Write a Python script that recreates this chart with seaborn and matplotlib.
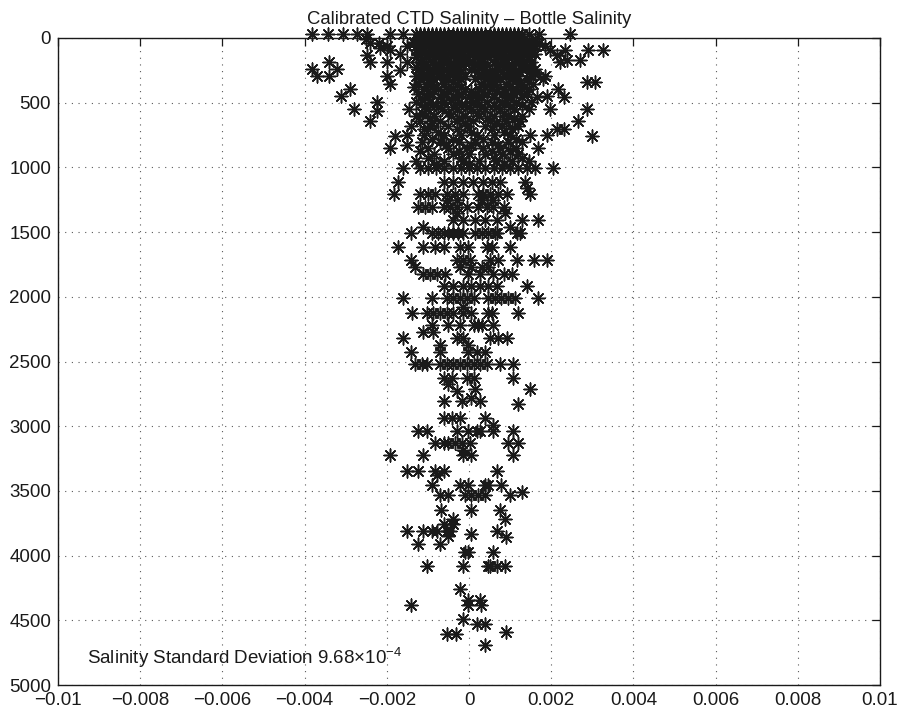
import pandas as pd
import matplotlib
matplotlib.use("Agg")
import matplotlib.pyplot as plt
from matplotlib.ticker import FixedLocator, FuncFormatter
import seaborn as sns

# CTD minus bottle salinity (units of 1e-3) grouped by bottle pressure (dbar)
upper_rows = [
    (-30, [-3.83, -3.42, -3.06, -2.73, -2.49, -1.92, -1.6, -1.3, -1.2, -1.1, -1.0, -0.9, -0.8,
           -0.7, -0.6, -0.5, -0.4, -0.3, -0.2, -0.1, 0.0, 0.1, 0.2, 0.3, 0.4, 0.5, 0.6, 0.7,
           0.8, 0.9, 1.0, 1.1, 1.2, 1.3, 1.45, 1.7, 2.46]),
    (5, [-2.5, -1.25, -1.05, -0.85, -0.65, -0.45, -0.25, -0.05, 0.15, 0.35, 0.55, 0.75,
         0.95, 1.15, 1.35, 1.6]),
    (28, [-1.35, -1.15, -0.95, -0.75, -0.55, -0.35, -0.15, 0.05, 0.25, 0.45, 0.65, 0.85,
          1.05, 1.25, 1.45]),
    (40, [-2.41, -2.2, -1.35, -1.15, -0.95, -0.75, -0.55, -0.35, -0.15, 0.05, 0.25, 0.45,
          0.65, 0.85, 1.05, 1.25, 1.5, 1.7]),
    (52, [-1.25, -1.05, -0.85, -0.65, -0.45, -0.25, -0.05, 0.15, 0.35, 0.55, 0.75, 0.95,
          1.15, 1.35, 1.55]),
    (65, [-2.0, -1.5, -1.28, -1.0, -0.8, -0.6, -0.4, -0.2, 0.0, 0.2, 0.4, 0.6, 0.8, 1.0,
          1.2, 1.4, 1.6, 1.85]),
    (81, [-2.17, -1.2, -0.9, -0.7, -0.5, -0.3, -0.1, 0.1, 0.3, 0.5, 0.7, 0.9, 1.1, 1.3, 1.5]),
    (94, [-1.92, -1.3, -1.1, -0.85, -0.65, -0.45, -0.25, -0.05, 0.15, 0.35, 0.55, 0.75,
          0.95, 1.15, 1.35, 1.55, 1.97, 2.34, 2.9, 3.27]),
    (108, [-1.15, -0.9, -0.6, -0.3, 0.0, 0.25, 0.5, 0.75, 1.0, 1.25, 1.5]),
    (120, [-1.68, -1.25, -0.95, -0.7, -0.4, -0.15, 0.1, 0.35, 0.6, 0.85, 1.1, 1.35, 1.6]),
    (133, [-2.49, -1.05, -0.55, 0.2, 0.7, 1.2, 2.13]),
    (150, [-1.3, -1.05, -0.8, -0.55, -0.3, -0.05, 0.2, 0.45, 0.7, 0.95, 1.2, 1.45]),
    (165, [-1.15, -0.65, -0.15, 0.35, 0.85, 1.3]),
    (172, [2.38, 2.7]),
    (185, [-3.4, -2.41, -2.0, -1.52, -1.2, -0.9, -0.6, -0.3, 0.0, 0.3, 0.6, 0.9, 1.2, 1.5, 2.21]),
    (198, [-1.05, -0.45, 0.15, 0.75, 1.35]),
    (210, [-1.1, -0.75, -0.45, -0.15, 0.15, 0.45, 0.75, 1.05, 1.35]),
    (225, [-1.3, -0.8, -0.3, 0.3, 0.9, 1.45]),
    (237, [-3.83, -3.2, -1.25, -0.95, -0.6, -0.25, 0.05, 0.4, 0.7, 1.0, 1.3, 1.6]),
    (250, [-1.68, -0.75, -0.4, 0.55, 1.15]),
    (265, [-1.15, -0.8, -0.5, -0.2, 0.2, 0.5, 0.8, 1.1, 1.45]),
    (278, [-0.95, -0.3, 0.4, 1.0, 1.6]),
    (290, [-3.7, -3.4, -2.0, -1.3, -1.0, -0.7, -0.35, -0.1, 0.3, 0.6, 0.9, 1.2, 1.5, 1.85]),
    (305, [-1.1, -0.55, 0.45, 1.05]),
    (320, [-1.2, -0.85, -0.5, -0.2, 0.15, 0.45, 0.75, 1.05, 1.4, 1.8]),
    (342, [-1.0, -0.4, 0.6, 1.25, 2.86, 3.07]),
    (355, [-1.92, -1.25, -0.95, -0.6, -0.3, 0.3, 0.6, 0.9, 1.2, 1.55]),
    (375, [-1.35, -0.8, -0.2, 0.4, 1.0, 1.35]),
    (394, [-2.9, -1.1, -0.75, -0.4, -0.1, 0.25, 0.55, 0.85, 1.15, 1.45, 2.17]),
    (412, [-1.0, -0.5, 0.05, 0.65, 1.25]),
    (430, [-1.25, -0.9, -0.55, -0.2, 0.15, 0.45, 0.8, 1.1, 1.4]),
    (446, [-3.12, 1.89]),
    (459, [-1.0, -0.7, -0.35, 0.0, 0.3, 0.6, 0.95, 1.3, 1.65, 2.3]),
    (478, [-1.15, -0.45, 0.2, 0.9]),
    (498, [-2.23, -1.3, -0.95, -0.6, -0.25, 0.1, 0.45, 0.8, 1.15, 1.5]),
    (515, [-0.8, -0.1, 0.6, 1.3]),
    (530, [-1.1, -0.75, -0.4, -0.05, 0.3, 0.65, 1.0]),
    (551, [-2.81, -1.45, -1.0, -0.65, -0.3, 0.05, 0.4, 0.75, 1.1, 1.45, 1.97, 2.86]),
    (564, [-2.23]),
    (578, [-1.15, -0.5, 0.2, 0.85]),
    (600, [-1.3, -0.85, -0.45, -0.1, 0.25, 0.6, 0.95, 1.3]),
    (620, [-0.95, -0.25, 0.45, 1.1]),
    (642, [-2.41, -1.2, -0.7, -0.3, 0.1, 0.5, 0.9, 1.25, 2.66]),
    (660, [-0.9, -0.1, 0.65]),
    (681, [-1.4, -0.95, -0.5, -0.05, 0.4, 0.8, 1.2]),
    (707, [-1.1, -0.3, 0.55, 1.05, 2.13, 2.3]),
    (725, [-0.75, 0.05, 0.85]),
    (746, [-1.52, -1.1, -0.6, -0.2, 0.2, 0.6, 1.0, 1.48, 1.89]),
    (760, [-1.8, 3.0]),
    (780, [-0.9, -0.4, 0.35, 1.15]),
    (800, [-1.15, -0.7, -0.25, 0.15, 0.55, 0.95, 1.3]),
    (825, [-1.52, -0.55, 0.05, 0.7]),
    (851, [-1.92, -1.0, -0.5, -0.05, 0.35, 0.75, 1.15, 1.69]),
    (875, [-1.2, -0.25, 0.55, 1.0]),
    (900, [-0.85, -0.4, 0.0, 0.4, 0.8, 1.2]),
    (925, [-1.0, -0.2, 0.6, 1.3]),
    (950, [-1.3, -0.6, -0.15, 0.25, 0.65, 1.05, 1.45]),
    (975, [-0.8, 0.0, 0.85]),
    (1007, [-1.6, -1.2, -1.0, -0.8, -0.6, -0.4, -0.2, 0.0, 0.2, 0.4, 0.6, 0.8, 1.0, 1.2,
            1.4, 1.6, 2.05]),
]

middle_rows = [
    (1111, [-1.72, -0.62, -0.38, -0.14, 0.1, 0.35, 0.55, 0.76, 1.36]),
    (1162, [1.4]),
    (1206, [-1.82, -1.19, -0.99, -0.83, -0.54, -0.34, -0.14, 0.23, 0.35, 0.51, 0.71, 0.92, 1.48]),
    (1253, [-0.54, -0.3, 0.31, 0.59]),
    (1304, [-1.23, -1.07, -0.91, -0.62, -0.46, -0.3, -0.06, 0.23, 0.43, 0.59, 0.84]),
    (1350, [-0.3, 0.88]),
    (1407, [-0.38, -0.14, 0.15, 0.39, 0.67, 1.28, 1.69]),
    (1459, [-1.11, 1.0]),
    (1505, [-1.42, -0.91, -0.75, -0.62, -0.5, -0.38, -0.26, -0.14, 0.15, 0.31, 0.47, 0.63,
            0.67, 1.16, 1.24]),
    (1613, [-1.72, -1.11, -0.83, -0.62, -0.22, -0.02, 0.43, 0.55, 1.0]),
    (1716, [-1.42, -0.3, -0.14, 0.02, 0.51, 0.71, 1.16, 1.57, 1.89]),
    (1768, [-1.31, -0.22, 0.06, 0.31, 0.47]),
    (1820, [-1.11, -0.95, -0.79, -0.58, -0.02, 0.27, 0.59, 0.84, 1.04]),
    (1917, [-0.62, -0.38, -0.14, 0.06, 0.27, 0.47, 0.67, 1.4]),
    (2013, [-1.61, -0.91, -0.54, -0.38, -0.22, -0.06, 0.11, 0.47, 0.63, 0.79, 0.96, 1.12, 1.69]),
    (2077, [-0.14]),
    (2129, [-1.39, -1.03, -0.87, -0.71, -0.54, -0.38, -0.14, 0.06, 0.47, 0.55, 1.2]),
    (2219, [-0.91, -0.5, -0.22, 0.11, 0.23, 0.31, 0.59]),
    (2270, [-1.11, -0.87]),
    (2322, [-1.61, -0.3, -0.14, 0.51, 0.71, 0.92]),
    (2374, [-0.71, -0.02]),
    (2430, [-1.42, -0.71, -0.02, 0.19, 0.39]),
    (2521, [-1.31, -1.15, -1.03, -0.71, -0.54, -0.38, -0.22, -0.06, 0.11, 0.27, 0.43, 0.75, 1.08]),
]

lower_rows = [
    (2624, [-0.62, -0.42, -0.06, 0.11, 1.08]),
    (2676, [-0.5]),
    (2715, [0.15, 1.48]),
    (2728, [-0.3]),
    (2780, [0.06]),
    (2805, [-0.62, -0.18, 0.27]),
    (2831, [1.2]),
    (2935, [-0.62, -0.42, -0.22, 0.39]),
    (2990, [0.59]),
    (3039, [-1.23, -1.03, -0.3, -0.02, 0.19, 0.27, 0.59, 1.08]),
    (3129, [-0.83, -0.62, -0.5, -0.34, -0.18, 0.02, 0.96, 1.2]),
    (3181, [-0.14]),
    (3225, [-1.92, -1.11, -0.14, 0.06, 1.08]),
    (3350, [-1.52, -1.23, -0.83, -0.62, 0.67]),
    (3376, [-0.79]),
    (3453, [-0.91, -0.22, -0.02, 0.39, 0.47, 0.79]),
    (3505, [1.28]),
    (3531, [-0.71, -0.5, -0.1, 0.06, 0.23, 0.39, 1.0]),
    (3650, [-0.67, 0.06, 0.75]),
    (3720, [-0.38, 0.88]),
    (3756, [-0.62, -0.38]),
    (3808, [-1.52, -1.11, -0.91, -0.79, -0.54, -0.46, 0.67]),
    (3833, [0.06]),
    (3846, [-0.5]),
    (3859, [0.9]),
    (3910, [-1.23, -0.71]),
    (3974, [-0.1, -0.02, 0.59]),
    (4077, [-1.03, -0.14, 0.47, 0.51, 0.67, 0.88]),
    (4256, [-0.22]),
    (4346, [-0.02, 0.27]),
    (4385, [-1.42, -0.02, 0.28]),
    (4487, [-0.14]),
    (4526, [0.19, 0.39]),
    (4590, [0.9]),
    (4608, [-0.54, -0.32]),
    (4692, [0.39]),
]

x_ticks = [-0.01, -0.008, -0.006, -0.004, -0.002, 0, 0.002, 0.004, 0.006, 0.008, 0.01]
y_ticks = [0, 500, 1000, 1500, 2000, 2500, 3000, 3500, 4000, 4500, 5000]
std_text = r"Salinity Standard Deviation 9.68$\times$10$^{-4}$"

records = []
for depth, xs in upper_rows + middle_rows + lower_rows:
    for x in xs:
        records.append((depth, x * 1e-3))
df = pd.DataFrame(records, columns=["pressure", "sal_diff"])

sns.set_theme(style="white")
plt.rcParams["font.family"] = ["Liberation Sans", "DejaVu Sans"]
plt.rcParams["mathtext.fontset"] = "custom"
plt.rcParams["mathtext.rm"] = "Liberation Sans"
plt.rcParams["mathtext.default"] = "regular"
plt.rcParams["text.color"] = "k"

fig = plt.figure(figsize=(8.99, 7.18), dpi=100)
ax = fig.add_axes([58 / 899, 1 - 685 / 718, 822 / 899, 647 / 718])

sns.scatterplot(data=df, x="sal_diff", y="pressure", marker=(8, 2, 0), color="k",
                s=85, linewidth=1.1, ax=ax, legend=False, clip_on=False, zorder=3)

ax.set_xlim(-0.01, 0.01)
ax.set_ylim(5000, 0)
ax.xaxis.set_major_locator(FixedLocator(x_ticks))
ax.yaxis.set_major_locator(FixedLocator(y_ticks))
ax.xaxis.set_major_formatter(FuncFormatter(lambda v, p: ("%g" % v).replace("-", "\u2212")))
ax.yaxis.set_major_formatter(FuncFormatter(lambda v, p: "%d" % v))
ax.tick_params(direction="in", top=True, right=True, length=6, width=0.9,
               labelsize=13.5, pad=5, colors="k")
ax.grid(True, linestyle=(0, (1, 5)), color="0.35", linewidth=0.8)
for sp in ax.spines.values():
    sp.set_color("k")
    sp.set_linewidth(1.0)
ax.set_xlabel("")
ax.set_ylabel("")
ax.set_title("Calibrated CTD Salinity \u2013 Bottle Salinity", fontsize=13.3, pad=10, color="k")
ax.text(-0.0093, 4790, std_text, fontsize=13.5, va="center", color="k")

fig.savefig("out.png", dpi=100)
